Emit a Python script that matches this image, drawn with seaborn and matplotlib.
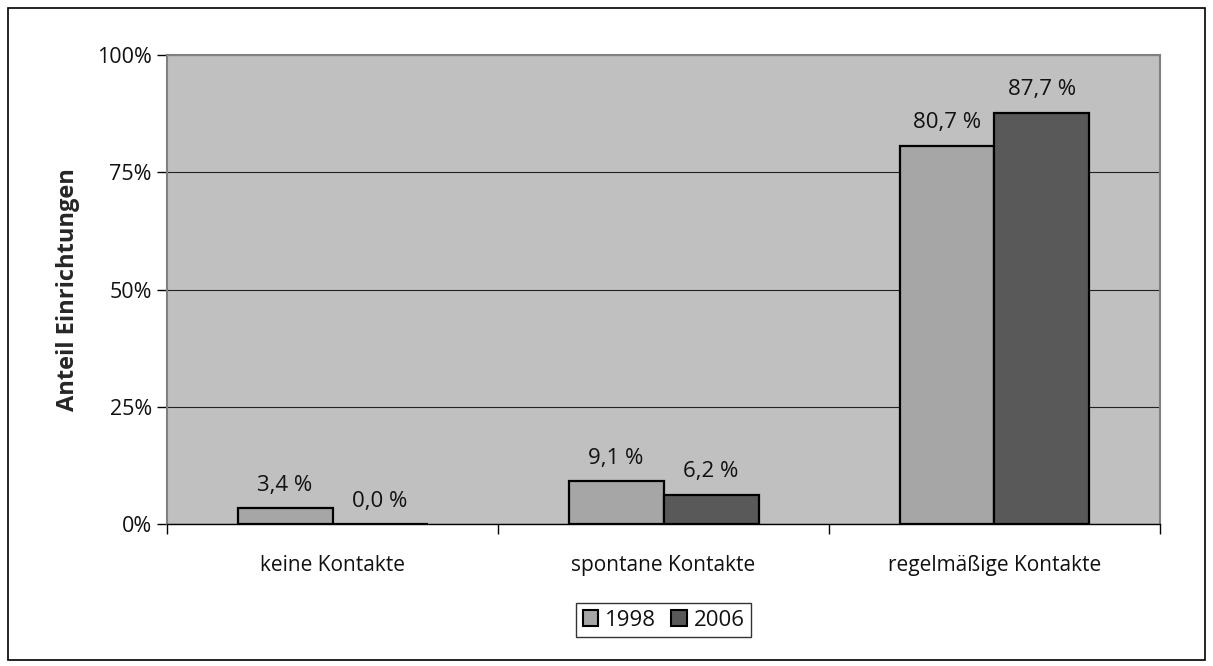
import matplotlib
matplotlib.use("Agg")
import matplotlib.pyplot as plt
import seaborn as sns
import pandas as pd
from matplotlib.patches import Rectangle
from matplotlib.ticker import FixedLocator

categories = ["keine Kontakte", "spontane Kontakte", "regelmäßige Kontakte"]
years = ["1998", "2006"]
values_1998 = [3.4, 9.1, 80.7]
values_2006 = [0.0, 6.2, 87.7]
y_ticks = [0, 25, 50, 75, 100]
y_tick_labels = ["0%", "25%", "50%", "75%", "100%"]

df = pd.DataFrame({
    "Kategorie": categories * 2,
    "Jahr": [years[0]] * 3 + [years[1]] * 3,
    "Anteil": values_1998 + values_2006,
})

sns.set_theme(style="white")
plt.rcParams["font.family"] = ["Open Sans", "DejaVu Sans"]
plt.rcParams["text.color"] = "#111111"

fig = plt.figure(figsize=(12.13, 6.66), dpi=100)
ax = fig.add_axes([0.1377, 0.2132, 0.8186, 0.7042])
ax.set_facecolor("#C0C0C0")

palette = {"1998": "#A6A6A6", "2006": "#595959"}
sns.barplot(data=df, x="Kategorie", y="Anteil", hue="Jahr", order=categories,
            hue_order=years, palette=palette, width=0.574, edgecolor="black",
            linewidth=1.6, saturation=1, ax=ax, legend=False, zorder=3)

ax.set_ylim(0, 100)
ax.set_xlim(-0.5, 2.5)
ax.set_yticks(y_ticks)
ax.set_yticklabels(y_tick_labels, fontsize=15.5, color="#111111")
for lbl in ax.get_xticklabels():
    lbl.set_fontsize(15)
    lbl.set_color("#111111")
ax.yaxis.grid(True, color="#222222", linewidth=0.8, zorder=0)
ax.set_axisbelow(True)
ax.set_xlabel("")
ax.set_ylabel("Anteil Einrichtungen", fontsize=17, fontweight="bold", labelpad=12)
ax.tick_params(axis="x", length=0, pad=22)
ax.tick_params(axis="y", length=7, width=1, color="black", direction="out", left=True, pad=4)
ax.xaxis.set_minor_locator(FixedLocator([-0.5, 0.5, 1.5, 2.5]))
ax.tick_params(axis="x", which="minor", length=7, width=1, color="black", direction="out", bottom=True)

for side in ["left", "top", "right"]:
    ax.spines[side].set_color("#808080")
    ax.spines[side].set_linewidth(1.5)
ax.spines["bottom"].set_color("black")
ax.spines["bottom"].set_linewidth(1.0)

for container in ax.containers:
    for bar in container:
        h = bar.get_height()
        ax.annotate(f"{h:.1f} %".replace(".", ","),
                    (bar.get_x() + bar.get_width() / 2, h),
                    xytext=(0, 9), textcoords="offset points",
                    ha="center", va="bottom", fontsize=16)

handles = [Rectangle((0, 0), 1, 1, facecolor=palette[y], edgecolor="black", linewidth=1.5) for y in years]
leg = fig.legend(handles, years, loc="center", bbox_to_anchor=(0.547, 0.069), ncol=2,
                 frameon=True, fontsize=16, handlelength=0.7, handleheight=0.7,
                 handletextpad=0.3, columnspacing=0.7, borderpad=0.3, fancybox=False)
leg.get_frame().set_edgecolor("black")
leg.get_frame().set_linewidth(1.0)

fig.patches.append(Rectangle((0.0066, 0.009), 0.9868, 0.979, transform=fig.transFigure,
                             fill=False, edgecolor="black", linewidth=1.2))

fig.savefig("out.png", dpi=100, facecolor="white")
